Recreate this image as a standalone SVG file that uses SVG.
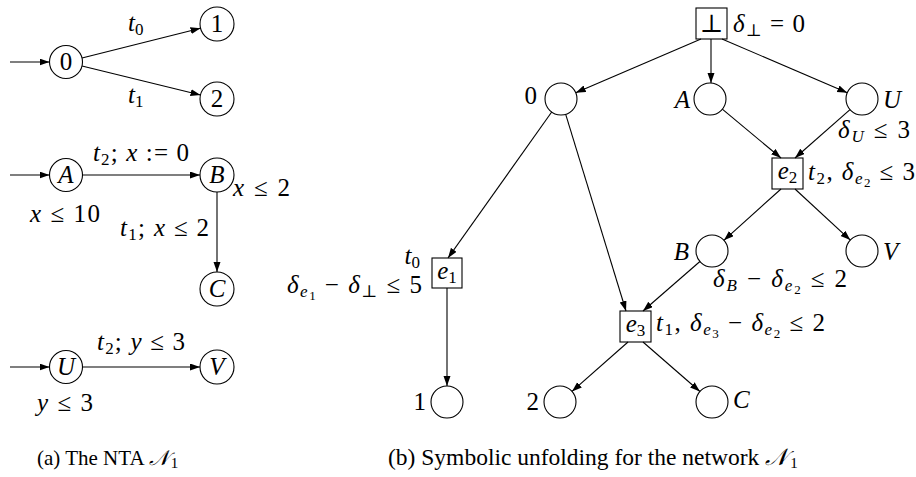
<svg xmlns="http://www.w3.org/2000/svg" width="916" height="477" viewBox="0 0 916 477">
<defs>
<marker id="ah" markerUnits="userSpaceOnUse" markerWidth="11" markerHeight="8" refX="10" refY="3.5" orient="auto">
<path d="M0,0 L10,3.5 L0,7 z" fill="#000"/>
</marker>
<style>
.st circle{fill:#fff;stroke:#000;stroke-width:1.1}
.ev rect{fill:#fff;stroke:#000;stroke-width:1.1}
#edges line{stroke:#000;stroke-width:1.1;marker-end:url(#ah)}
text{font-family:"Liberation Serif","DejaVu Serif",serif;font-size:25px;fill:#000}
.i{font-style:italic}
.c{text-anchor:middle}
.r{text-anchor:end}
.capa{font-size:21px}
.capb{font-size:23.5px}
</style>
</defs>
<rect width="916" height="477" fill="#fff"/>

<!-- (a) NTA -->
<g id="a0" class="st"><circle cx="66" cy="62" r="16.5"/><text x="66" y="70" class="c">0</text></g>
<g id="a1" class="st"><circle cx="217" cy="24" r="17"/><text x="217" y="32" class="c">1</text></g>
<g id="a2" class="st"><circle cx="217" cy="99" r="17"/><text x="217" y="107" class="c">2</text></g>
<g id="aA" class="st"><circle cx="66" cy="175" r="16.5"/><text x="66" y="183" class="c i">A</text></g>
<g id="aB" class="st"><circle cx="217" cy="175" r="17"/><text x="217" y="183" class="c i">B</text></g>
<g id="aC" class="st"><circle cx="217" cy="289" r="17"/><text x="217" y="297" class="c i">C</text></g>
<g id="aU" class="st"><circle cx="66" cy="367" r="16.5"/><text x="66" y="375" class="c i">U</text></g>
<g id="aV" class="st"><circle cx="217" cy="367" r="17"/><text x="217" y="375" class="c i">V</text></g>

<!-- (b) unfolding -->
<g id="bot" class="ev"><rect x="696" y="8" width="31" height="31"/><text x="711.5" y="32" class="c">⊥</text></g>
<g id="b0" class="st"><circle cx="561" cy="99" r="16"/></g>
<g id="bA" class="st"><circle cx="710" cy="99" r="16"/></g>
<g id="bU" class="st"><circle cx="862" cy="99" r="16"/></g>
<g id="be2" class="ev"><rect x="772" y="158" width="31" height="31"/><text x="787.5" y="179" class="c"><tspan class="i">e</tspan><tspan font-size="17" dy="4">2</tspan></text></g>
<g id="bB" class="st"><circle cx="712" cy="251" r="16"/></g>
<g id="bV" class="st"><circle cx="862" cy="251" r="16"/></g>
<g id="be1" class="ev"><rect x="432" y="258" width="30" height="30"/><text x="447" y="279" class="c"><tspan class="i">e</tspan><tspan font-size="17" dy="4">1</tspan></text></g>
<g id="be3" class="ev"><rect x="620" y="311" width="31" height="31"/><text x="635.5" y="332" class="c"><tspan class="i">e</tspan><tspan font-size="17" dy="4">3</tspan></text></g>
<g id="b1" class="st"><circle cx="447" cy="402" r="16"/></g>
<g id="b2" class="st"><circle cx="560" cy="402" r="16"/></g>
<g id="bC" class="st"><circle cx="712" cy="402" r="16"/></g>

<g id="edges">
<line x1="10" y1="62" x2="49.5" y2="62"/>
<line x1="82" y1="58" x2="200.5" y2="28.2"/>
<line x1="82" y1="66" x2="200.5" y2="95"/>
<line x1="10" y1="175" x2="49.5" y2="175"/>
<line x1="82.5" y1="175" x2="200" y2="175"/>
<line x1="217" y1="192" x2="217" y2="272"/>
<line x1="10" y1="367" x2="49.5" y2="367"/>
<line x1="82.5" y1="367" x2="200" y2="367"/>

<line x1="701" y1="39" x2="575.7" y2="92.7"/>
<line x1="711" y1="39" x2="711" y2="83"/>
<line x1="722" y1="39" x2="847.3" y2="92.7"/>
<line x1="551.7" y1="112" x2="448" y2="258"/>
<line x1="565.7" y1="114.3" x2="626" y2="311"/>
<line x1="722.3" y1="109.2" x2="781" y2="158"/>
<line x1="850" y1="109.6" x2="795" y2="158"/>
<line x1="781" y1="189" x2="723.9" y2="240.3"/>
<line x1="795" y1="189" x2="850.3" y2="240.1"/>
<line x1="699.9" y1="261.5" x2="643" y2="311"/>
<line x1="447" y1="288" x2="447" y2="386"/>
<line x1="628" y1="342" x2="572" y2="391.4"/>
<line x1="643" y1="342" x2="699.9" y2="391.5"/>
</g>

<g id="labels">
<!-- left -->
<text x="128" y="31"><tspan class="i">t</tspan><tspan font-size="17" dy="4">0</tspan></text>
<text x="128" y="103"><tspan class="i">t</tspan><tspan font-size="17" dy="4">1</tspan></text>
<text x="93" y="161" textLength="96"><tspan class="i">t</tspan><tspan font-size="17" dy="4">2</tspan><tspan dy="-4">; </tspan><tspan class="i">x</tspan> := 0</text>
<text x="233" y="196" textLength="57"><tspan class="i">x</tspan> ≤ 2</text>
<text x="30" y="222" textLength="70"><tspan class="i">x</tspan> ≤ 10</text>
<text x="120" y="236" textLength="89"><tspan class="i">t</tspan><tspan font-size="17" dy="4">1</tspan><tspan dy="-4">; </tspan><tspan class="i">x</tspan> ≤ 2</text>
<text x="97" y="350" textLength="88"><tspan class="i">t</tspan><tspan font-size="17" dy="4">2</tspan><tspan dy="-4">; </tspan><tspan class="i">y</tspan> ≤ 3</text>
<text x="37" y="411" textLength="56"><tspan class="i">y</tspan> ≤ 3</text>
<text x="37" y="465" class="capa">(a)  The NTA <tspan class="i">𝒩</tspan><tspan font-size="15" dx="2" dy="3">1</tspan></text>

<!-- right -->
<text x="733" y="32" textLength="72"><tspan class="i">δ</tspan><tspan font-size="17" dy="4">⊥</tspan><tspan dy="-4"> = 0</tspan></text>
<text x="537" y="104" class="r">0</text>
<text x="690" y="108" class="r i">A</text>
<text x="883" y="108" class="i">U</text>
<text x="838" y="138" textLength="72"><tspan class="i">δ</tspan><tspan font-size="17" dy="4" class="i">U</tspan><tspan dy="-4"> ≤ 3</tspan></text>
<text x="808" y="180" textLength="107"><tspan class="i">t</tspan><tspan font-size="17" dy="4">2</tspan><tspan dy="-4">, </tspan><tspan class="i">δ</tspan><tspan font-size="17" dy="4" class="i">e</tspan><tspan font-size="13" dy="3">2</tspan><tspan dy="-7"> ≤ 3</tspan></text>
<text x="689" y="260" class="r i">B</text>
<text x="883" y="260" class="i">V</text>
<text x="713" y="287" textLength="134"><tspan class="i">δ</tspan><tspan font-size="17" dy="4" class="i">B</tspan><tspan dy="-4"> − </tspan><tspan class="i">δ</tspan><tspan font-size="17" dy="4" class="i">e</tspan><tspan font-size="13" dy="3">2</tspan><tspan dy="-7"> ≤ 2</tspan></text>
<text x="420" y="264" class="r"><tspan class="i">t</tspan><tspan font-size="17" dy="4">0</tspan></text>
<text x="287" y="293" textLength="135"><tspan class="i">δ</tspan><tspan font-size="17" dy="4" class="i">e</tspan><tspan font-size="13" dy="3">1</tspan><tspan dy="-7"> − </tspan><tspan class="i">δ</tspan><tspan font-size="17" dy="4">⊥</tspan><tspan dy="-4"> ≤ 5</tspan></text>
<text x="656" y="331" textLength="169"><tspan class="i">t</tspan><tspan font-size="17" dy="4">1</tspan><tspan dy="-4">, </tspan><tspan class="i">δ</tspan><tspan font-size="17" dy="4" class="i">e</tspan><tspan font-size="13" dy="3">3</tspan><tspan dy="-7"> − </tspan><tspan class="i">δ</tspan><tspan font-size="17" dy="4" class="i">e</tspan><tspan font-size="13" dy="3">2</tspan><tspan dy="-7"> ≤ 2</tspan></text>
<text x="426" y="410" class="r">1</text>
<text x="539" y="410" class="r">2</text>
<text x="733" y="408" class="i">C</text>
<text x="388" y="465" class="capb">(b)  Symbolic unfolding for the network <tspan class="i">𝒩</tspan><tspan font-size="15" dx="2" dy="3">1</tspan></text>
</g>
</svg>
